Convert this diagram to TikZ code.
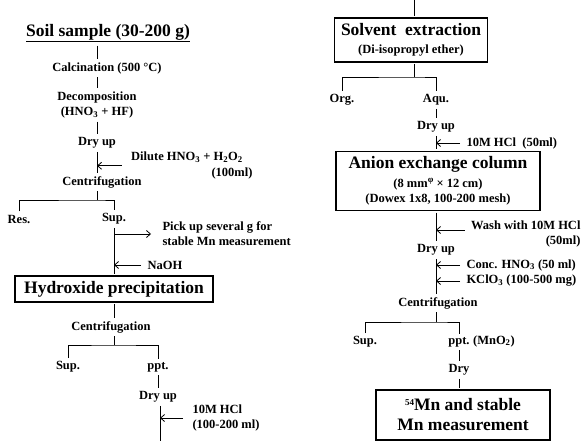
\documentclass[tikz,border=0pt]{standalone}
\usepackage{fontspec}
\setmainfont{Liberation Serif}
\usepackage{tikz}
\usetikzlibrary{arrows.meta}

\newcommand{\bigfnt}{\fontsize{17.5}{20}\selectfont}
\newcommand{\supsm}[1]{\raisebox{5pt}{\fontsize{9}{9}\selectfont #1}}

\begin{document}
\begin{tikzpicture}[x=1pt,y=-1pt,line width=0.8pt,>/.tip={Straight Barb[length=4pt,width=7pt]},
	txt/.style={font=\fontsize{12.5}{15}\selectfont\bfseries,inner sep=1.5pt,outer sep=2pt},
	bigtxt/.style={txt,font=\bigfnt\bfseries},
	stepbox/.style={draw,line width=1.1pt,inner sep=3pt},
	feed/.style={->,shorten <=3pt}]
	\useasboundingbox (0,0) rectangle (584,441);
	\draw (108,33) node (soil) [bigtxt] {\underline{Soil sample (30-200 g)}};
	\draw (107,68) node (calc) [txt] {Calcination (500 °C)};
	\draw (97,105) node (dec) [txt,align=center] {Decomposition\\(HNO\textsubscript{3} + HF)};
	\draw (97,143) node (dry1) [txt] {Dry up};
	\draw (187,157) node (dil) [txt] {Dilute HNO\textsubscript{3} + H\textsubscript{2}O\textsubscript{2}};
	\draw (232,173) node (dil2) [txt] {(100ml)};
	\draw (102,182) node (cen1) [txt] {Centrifugation};
	\draw (19,219) node (res) [txt] {Res.};
	\draw (114,219) node (sup1) [txt] {Sup.};
	\draw (159,234) node (pick) [txt,anchor=west,align=left] {Pick up several g for\\stable Mn measurement};
	\draw (144,265) node (naoh) [txt,anchor=west] {NaOH};
	\draw (114,289) node (hyd) [stepbox,bigtxt,minimum width=198pt,minimum height=26pt] {Hydroxide precipitation};
	\draw (111,327) node (cen2) [txt] {Centrifugation};
	\draw (68,367) node (sup2) [txt] {Sup.};
	\draw (158,367) node (ppt1) [txt] {ppt.};
	\draw (158,397) node (dry2) [txt] {Dry up};
	\draw (189,418) node (hcl1) [txt,anchor=west,align=left] {10M HCl\\(100-200 ml)};
	\coordinate (bot) at (160,441);
	\coordinate (br1) at (97,200);
	\coordinate (br2) at (114,345);
	\draw (soil.south -| dry1) -- (calc.north -| dry1);
	\draw (calc.south -| dry1) -- (dec);
	\draw (dec) -- (dry1);
	\draw (dry1) -- (cen1.north -| dry1);
	\draw[feed,shorten <=6pt] (dil.south west) -- (dil.south west -| dry1);
	\draw (cen1.south -| br1) -- (br1);
	\draw (res) |- (br1) -| (sup1);
	\draw (sup1) -- (hyd);
	\draw[->,shorten >=8pt] (pick.west -| sup1) -- (pick.west);
	\draw[feed] (naoh.west) -- (naoh.west -| sup1);
	\draw (hyd) -- (cen2.north -| hyd);
	\draw (cen2.south -| br2) -- (br2);
	\draw (sup2) |- (br2) -| (ppt1);
	\draw (ppt1) -- (dry2);
	\draw (dry2.south -| bot) -- (bot);
	\draw[feed,shorten <=6pt] (hcl1.west) -- (hcl1.west -| bot);
	\coordinate (top) at (414,0);
	\coordinate (br3) at (414,77);
	\coordinate (br4) at (436,322);
	\draw (411,40) node (solv) [stepbox,txt,align=center,minimum width=153pt,minimum height=44pt] {{\bigfnt Solvent\ \ extraction}\\[3pt](Di-isopropyl ether)};
	\draw (342,100) node (org) [txt] {Org.};
	\draw (436,100) node (aqu) [txt] {Aqu.};
	\draw (436,127) node (dry3) [txt] {Dry up};
	\draw (463,143) node (hcl2) [txt,anchor=west] {10M HCl\ \ (50ml)};
	\draw (438,181) node (anion) [stepbox,txt,align=center,minimum width=204pt,minimum height=59pt] {{\bigfnt Anion exchange column}\\[4pt](8 mm\supsm{φ} × 12 cm)\\(Dowex 1x8, 100-200 mesh)};
	\draw (584,234) node (wash) [txt,anchor=east,align=right] {Wash with 10M HCl\\(50ml)};
	\draw (436,250) node (dry4) [txt] {Dry up};
	\draw (463,265) node (conc) [txt,anchor=west] {Conc. HNO\textsubscript{3} (50 ml)};
	\draw (463,281) node (kclo) [txt,anchor=west] {KClO\textsubscript{3} (100-500 mg)};
	\draw (438,303) node (cen3) [txt] {Centrifugation};
	\draw (365,342) node (sup3) [txt] {Sup.};
	\draw (459,342) node (ppt2) [txt] {ppt.};
	\node (mno) [txt,anchor=base west,inner xsep=0pt,outer sep=0pt] at (ppt2.base east) {(MnO\textsubscript{2})};
	\draw (459,370) node (dry5) [txt] {Dry};
	\draw (463,415) node (meas) [stepbox,bigtxt,align=center,minimum width=174pt,minimum height=50pt] {\supsm{54}Mn and stable\\Mn measurement};
	\draw (top) -- (top |- solv.north);
	\draw (solv.south -| br3) -- (br3);
	\draw (org) |- (br3) -| (aqu);
	\draw (aqu) -- (dry3);
	\draw (dry3) -- (dry3 |- anion.north);
	\draw[feed] (hcl2.west) -- (hcl2.west -| dry3);
	\draw (anion.south -| dry4) -- (dry4);
	\draw[feed] ([yshift=4pt]wash.west) -- ([yshift=4pt]wash.west -| dry4);
	\draw (dry4) -- (dry4 |- cen3.north);
	\draw[feed] (conc.west) -- (conc.west -| dry4);
	\draw[feed] (kclo.west) -- (kclo.west -| dry4);
	\draw (cen3.south -| br4) -- (br4);
	\draw (sup3) |- (br4) -| (ppt2);
	\draw (ppt2) -- (dry5);
	\draw (dry5) -- (dry5 |- meas.north);
\end{tikzpicture}
\end{document}
